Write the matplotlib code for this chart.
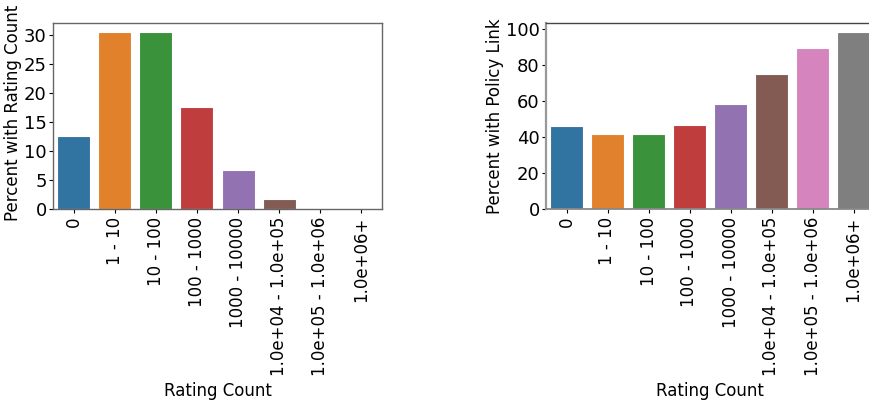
import matplotlib
matplotlib.use("Agg")
import matplotlib.pyplot as plt
from matplotlib.ticker import MultipleLocator

categories = ["0", "1 - 10", "10 - 100", "100 - 1000", "1000 - 10000",
              "1.0e+04 - 1.0e+05", "1.0e+05 - 1.0e+06", "1.0e+06+"]
pct_rating = [12.5, 30.5, 30.4, 17.6, 6.7, 1.7, 0.25, 0.02]
pct_policy = [45.9, 41.7, 41.5, 46.5, 58.3, 74.8, 89.6, 98.3]
colors = ["#3274a1", "#e1812c", "#3a923a", "#c03d3e",
          "#9372b2", "#845b53", "#d684bd", "#7f7f7f"]

plt.rcParams['font.family'] = ['DejaVu Sans']
fig = plt.figure(figsize=(8.69, 4.01), dpi=100)
W, H = 869, 401

def make_ax(x0, x1, y0, y1):
    return fig.add_axes([x0 / W, 1 - y1 / H, (x1 - x0) / W, (y1 - y0) / H])

ax1 = make_ax(53, 382, 23, 209)
ax2 = make_ax(546, 874, 23, 209)

specs = [(ax1, pct_rating, "Percent with Rating Count", 5, -0.095, 0.515),
         (ax2, pct_policy, "Percent with Policy Link", 20, -0.128, 0.5)]

for ax, vals, ylabel, step, lx, ly in specs:
    x = range(len(categories))
    ax.bar(x, vals, width=0.8, color=colors, edgecolor="white", linewidth=0.8)
    ax.set_xlim(-0.5, len(categories) - 0.5)
    ax.set_ylim(0, max(vals) * 1.05)
    ax.yaxis.set_major_locator(MultipleLocator(step))
    ax.set_xticks(list(x))
    ax.set_xticklabels(categories, rotation=90, fontsize=12)
    ax.tick_params(axis='y', labelsize=13, length=3, pad=1.5)
    ax.tick_params(axis='x', length=3, pad=2.5)
    ax.set_xlabel("Rating Count", fontsize=12)
    ax.set_ylabel(ylabel, fontsize=12)
    ax.yaxis.set_label_coords(lx, ly)
    for s in ax.spines.values():
        s.set_color("#666666")
        s.set_linewidth(1.0)

ax2.spines['left'].set_color("#999999")
ax2.spines['left'].set_linewidth(1.6)
ax2.spines['bottom'].set_color("#888888")
ax2.spines['bottom'].set_linewidth(1.3)
ax2.spines['top'].set_color("#444444")

fig.savefig("out.png", dpi=100)
